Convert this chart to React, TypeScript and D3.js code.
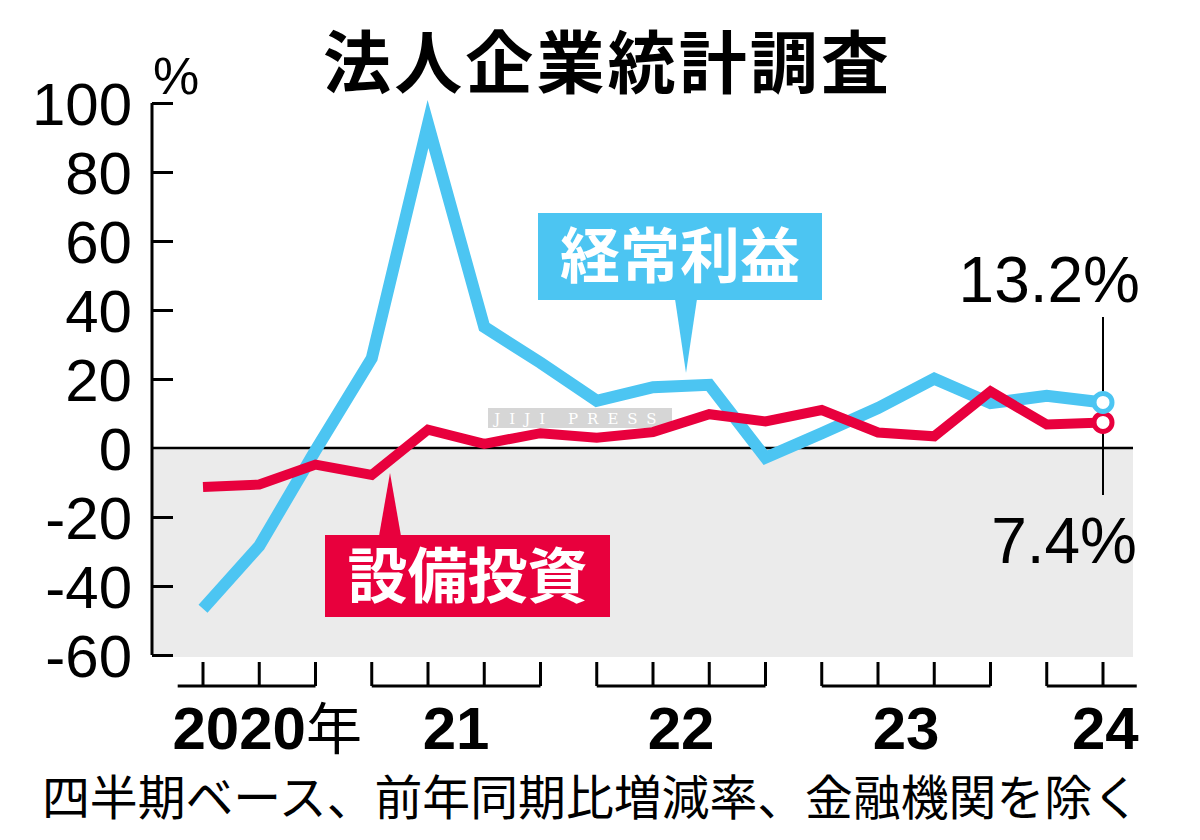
import React, { useRef, useEffect } from "react";
import * as d3 from "d3";

// quarterly data, Apr-Jun 2020 .. Apr-Jun 2024
const quarters = [
  "2020Q2", "2020Q3", "2020Q4",
  "2021Q1", "2021Q2", "2021Q3", "2021Q4",
  "2022Q1", "2022Q2", "2022Q3", "2022Q4",
  "2023Q1", "2023Q2", "2023Q3", "2023Q4",
  "2024Q1", "2024Q2",
];
const profit = [-46.6, -28.4, -0.7, 26.0, 93.9, 35.1, 24.7, 13.7, 17.6, 18.3, -2.8, 4.3, 11.6, 20.1, 13.0, 15.1, 13.2];
const capex = [-11.3, -10.6, -4.8, -7.8, 5.3, 1.2, 4.3, 3.0, 4.6, 9.8, 7.7, 11.0, 4.5, 3.4, 16.4, 6.8, 7.4];
const years = ["2020", "2021", "2022", "2023", "2024"];
const yearLabels = ["2020", "21", "22", "23", "24"];
const yTicks = [-60, -40, -20, 0, 20, 40, 60, 80, 100];

const BLUE = "#4CC5F2";
const RED = "#E8003D";
const NUM_FONT = "'Liberation Sans', Arial, sans-serif";
const JP_FONT = "'Noto Sans CJK JP', sans-serif";

const App = () => {
  const svgRef = useRef(null);

  useEffect(() => {
    const w = 1200;
    const h = 840;
    const svg = d3.select(svgRef.current).attr("width", w).attr("height", h);
    svg.selectAll("*").remove();

    const x = d3.scaleLinear().domain([0, quarters.length - 1]).range([203, 1103]);
    const y = d3.scaleLinear().domain([-60, 100]).range([655, 103]);
    const left = 152;
    const right = 1133;

    svg.append("rect").attr("width", w).attr("height", h).attr("fill", "#fff");

    // title
    svg.append("text")
      .attr("x", 606).attr("y", 88)
      .attr("text-anchor", "middle")
      .attr("font-family", JP_FONT).attr("font-weight", 700)
      .attr("font-size", 68).attr("textLength", 566)
      .text("法人企業統計調査");

    // negative area
    svg.append("rect")
      .attr("x", left).attr("y", y(0))
      .attr("width", right - left).attr("height", y(-60) + 2 - y(0))
      .attr("fill", "#EBEBEB");

    // y axis
    const yAxis = d3.axisLeft(y).tickValues(yTicks).tickSize(-21).tickPadding(20).tickFormat((d) => String(d));
    const ga = svg.append("g").attr("transform", `translate(${left},0)`).call(yAxis);
    ga.select(".domain").attr("stroke", "#000").attr("stroke-width", 3)
      .attr("d", `M0,${y(100)}V${y(-60)}`);
    ga.selectAll(".tick line").attr("stroke", "#000").attr("stroke-width", 3);
    ga.selectAll(".tick").filter((d) => d === 0).select("line").remove();
    ga.selectAll(".tick text")
      .attr("font-family", NUM_FONT).attr("font-size", 60)
      .attr("fill", "#000").attr("dy", "0.36em")
      .attr("x", -20);

    svg.append("text")
      .attr("x", 153).attr("y", 94)
      .attr("font-family", NUM_FONT).attr("font-size", 52)
      .text("%");

    // zero line
    svg.append("line")
      .attr("x1", left).attr("x2", right)
      .attr("y1", y(0)).attr("y2", y(0))
      .attr("stroke", "#000").attr("stroke-width", 2.5);

    // watermark
    const wm = svg.append("g").attr("transform", "translate(488,408)");
    wm.append("rect").attr("width", 184).attr("height", 20).attr("fill", "#c8c8c8").attr("opacity", 0.75);
    wm.append("text").attr("x", 92).attr("y", 16).attr("text-anchor", "middle")
      .attr("font-family", "'DejaVu Serif', serif").attr("font-size", 15)
      .attr("letter-spacing", 9).attr("fill", "#fff").text("JIJI PRESS");

    // year brackets on x axis
    const top = 662;
    const bottom = 686;
    years.forEach((yr, k) => {
      const idx = quarters.map((q, i) => (q.startsWith(yr) ? i : -1)).filter((i) => i >= 0);
      const first = idx[0];
      const last = idx[idx.length - 1];
      const x0 = first === 0 ? x(-0.45) : x(first);
      const x1 = last === quarters.length - 1 ? x(last + 0.6) : x(last);
      const g = svg.append("g").attr("stroke", "#000").attr("stroke-width", 3).attr("fill", "none");
      g.append("line").attr("x1", x0).attr("x2", x1).attr("y1", bottom).attr("y2", bottom);
      idx.forEach((i) => {
        g.append("line").attr("x1", x(i)).attr("x2", x(i)).attr("y1", top).attr("y2", bottom);
      });
      const isLast = k === years.length - 1;
      const lx = isLast ? x1 + 2 : first === 0 ? x(1) + 8 : (x(first) + x(last)) / 2;
      const t = svg.append("text")
        .attr("x", lx).attr("y", 749)
        .attr("text-anchor", isLast ? "end" : "middle")
        .attr("font-family", NUM_FONT).attr("font-weight", 700)
        .attr("font-size", 60);
      t.append("tspan").text(yearLabels[k]);
      if (k === 0) {
        t.append("tspan").attr("font-family", JP_FONT).attr("font-weight", 400)
          .attr("font-size", 56).text("年");
      }
    });

    // note
    svg.append("text")
      .attr("x", 42).attr("y", 815)
      .attr("font-family", JP_FONT).attr("font-size", 48)
      .attr("textLength", 1098).attr("lengthAdjust", "spacingAndGlyphs")
      .text("四半期ベース、前年同期比増減率、金融機関を除く");

    // leader line for latest values
    const lastI = quarters.length - 1;
    svg.append("line")
      .attr("x1", x(lastI)).attr("x2", x(lastI))
      .attr("y1", 317).attr("y2", 495)
      .attr("stroke", "#000").attr("stroke-width", 2);

    const line = d3.line().x((d, i) => x(i)).y((d) => y(d)).curve(d3.curveLinear);

    svg.append("path")
      .attr("d", line(profit))
      .attr("fill", "none").attr("stroke", BLUE)
      .attr("stroke-width", 12).attr("stroke-linejoin", "miter");
    svg.append("path")
      .attr("d", line(capex))
      .attr("fill", "none").attr("stroke", RED)
      .attr("stroke-width", 10).attr("stroke-linejoin", "miter");

    svg.append("circle")
      .attr("cx", x(lastI)).attr("cy", y(capex[lastI])).attr("r", 9)
      .attr("fill", "#fff").attr("stroke", RED).attr("stroke-width", 5);
    svg.append("circle")
      .attr("cx", x(lastI)).attr("cy", y(profit[lastI])).attr("r", 9)
      .attr("fill", "#fff").attr("stroke", BLUE).attr("stroke-width", 5);

    svg.append("text")
      .attr("x", 1140).attr("y", 302).attr("text-anchor", "end")
      .attr("font-family", NUM_FONT).attr("font-size", 64)
      .text(`${profit[lastI]}%`);
    svg.append("text")
      .attr("x", 1137).attr("y", 563).attr("text-anchor", "end")
      .attr("font-family", NUM_FONT).attr("font-size", 64)
      .text(`${capex[lastI]}%`);

    // callout labels
    const callout = (bx, by, bw, bh, tipX, tipY, baseX, color, label) => {
      const g = svg.append("g");
      g.append("rect").attr("x", bx).attr("y", by).attr("width", bw).attr("height", bh).attr("fill", color);
      const above = tipY > by;
      const baseY = above ? by + bh - 1 : by + 1;
      g.append("path")
        .attr("d", `M${baseX - 11},${baseY}L${baseX + 11},${baseY}L${tipX},${tipY}Z`)
        .attr("fill", color);
      g.append("text")
        .attr("x", bx + bw / 2).attr("y", by + bh / 2)
        .attr("dy", "0.36em").attr("text-anchor", "middle")
        .attr("font-family", JP_FONT).attr("font-weight", 700)
        .attr("font-size", 60).attr("fill", "#fff")
        .text(label);
    };
    callout(538, 213, 284, 87, 686, 373, 686, BLUE, "経常利益");
    callout(325, 535, 285, 82, 390, 473, 390, RED, "設備投資");
  }, []);

  return (
    <div style={{ position: "absolute", left: 0, top: 0 }}>
      <svg ref={svgRef}></svg>
    </div>
  );
};

export default App;
